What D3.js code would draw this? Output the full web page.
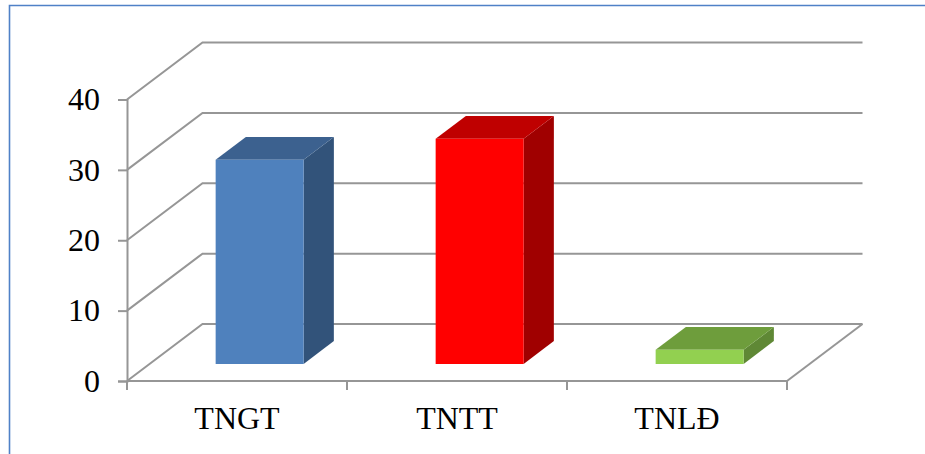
<!DOCTYPE html>
<html>
<head>
<meta charset="utf-8">
<style>
  html, body { margin: 0; padding: 0; background: #fff; }
  svg { display: block; }
  text { font-family: "Liberation Serif", serif; font-size: 32px; fill: #000; }
</style>
<script src="https://cdnjs.cloudflare.com/ajax/libs/d3/7.8.5/d3.min.js"></script>
</head>
<body>
<svg id="chart" width="925" height="454"></svg>
<script>
// Counts per accident category, plotted as 3D columns
const categories = ["TNGT", "TNTT", "TNLĐ"];
const values = [29, 32, 2];
const yTicks = [0, 10, 20, 30, 40];
const frontColors = ["#4f81bd", "#ff0000", "#92d050"];
const topColors = ["#3c618f", "#bf0000", "#6e9d3c"];
const sideColors = ["#32537a", "#a00000", "#5f8835"];

const svg = d3.select("#chart");
const gridColor = "#969696";
const frameColor = "#4f81c7";

const x = d3.scaleBand().domain(categories).range([127, 787]).paddingInner(0.6).paddingOuter(0.3);
const y = d3.scaleLinear().domain([0, 40]).range([381, 99.5]);

// Oblique projection: depth 0 is the front of the floor, depth 1 the back wall
const depthX = d3.scaleLinear().domain([0, 1]).range([0, 75.5]);
const depthY = d3.scaleLinear().domain([0, 1]).range([0, -57]);
const barFront = 0.3, barBack = 0.7;
const project = (px, py, d) => [px + depthX(d), py + depthY(d)];
const line = d3.line();

// Outer frame, open on the right and at the bottom
svg.append("path")
  .attr("d", line([[9.5, 454], [9.5, 5.5], [925, 5.5]]))
  .attr("fill", "none").attr("stroke", frameColor).attr("stroke-width", 1.6);

// Gridlines running along the side wall and across the back wall
const [x0, x1] = x.range();
const grid = svg.append("g").attr("fill", "none").attr("stroke", gridColor).attr("stroke-width", 2);
grid.selectAll("path.wall").data(yTicks).join("path")
  .attr("class", "wall")
  .attr("d", t => line([[x0, y(t)], project(x0, y(t), 1), project(x1, y(t), 1)]));
grid.append("path")
  .attr("d", line([project(x1, y(0), 1), [x1, y(0)]]));

// Axes
const yAxis = d3.axisLeft(y).tickValues(yTicks).tickSize(9).tickPadding(18);
const gy = svg.append("g").attr("transform", `translate(${x0},0)`).call(yAxis);

const xEdges = categories.map(c => x(c) - x.step() * 0.3).concat([x1]);
const gx = svg.append("g");
gx.append("path").attr("d", line([[x0, y(0)], [x1, y(0)]]));
gx.selectAll("path.tick").data(xEdges).join("path")
  .attr("class", "tick")
  .attr("d", e => line([[e, y(0)], [e, y(0) + 9]]));
gx.selectAll("path").attr("fill", "none").attr("stroke", gridColor).attr("stroke-width", 2);

gy.select(".domain").attr("stroke", gridColor).attr("stroke-width", 2);
gy.selectAll(".tick line").attr("stroke", gridColor).attr("stroke-width", 2);
gy.selectAll(".tick text")
  .style("font-family", '"Liberation Serif", serif').style("font-size", "32px").attr("fill", "#000");

svg.append("g").selectAll("text").data(categories).join("text")
  .attr("x", c => x(c) + x.bandwidth() / 2)
  .attr("y", 429)
  .attr("text-anchor", "middle")
  .text(c => c);

// Columns: side, top and front faces
const bars = svg.append("g").selectAll("g").data(categories).join("g");
bars.append("path")
  .attr("fill", (c, i) => sideColors[i])
  .attr("d", (c, i) => {
    const r = x(c) + x.bandwidth();
    return line([project(r, y(0), barFront), project(r, y(values[i]), barFront),
                 project(r, y(values[i]), barBack), project(r, y(0), barBack)]) + "Z";
  });
bars.append("path")
  .attr("fill", (c, i) => topColors[i])
  .attr("d", (c, i) => {
    const l = x(c), r = l + x.bandwidth(), t = y(values[i]);
    return line([project(l, t, barFront), project(r, t, barFront),
                 project(r, t, barBack), project(l, t, barBack)]) + "Z";
  });
bars.append("path")
  .attr("fill", (c, i) => frontColors[i])
  .attr("d", (c, i) => {
    const l = x(c), r = l + x.bandwidth();
    return line([project(l, y(0), barFront), project(l, y(values[i]), barFront),
                 project(r, y(values[i]), barFront), project(r, y(0), barFront)]) + "Z";
  });
</script>
</body>
</html>
